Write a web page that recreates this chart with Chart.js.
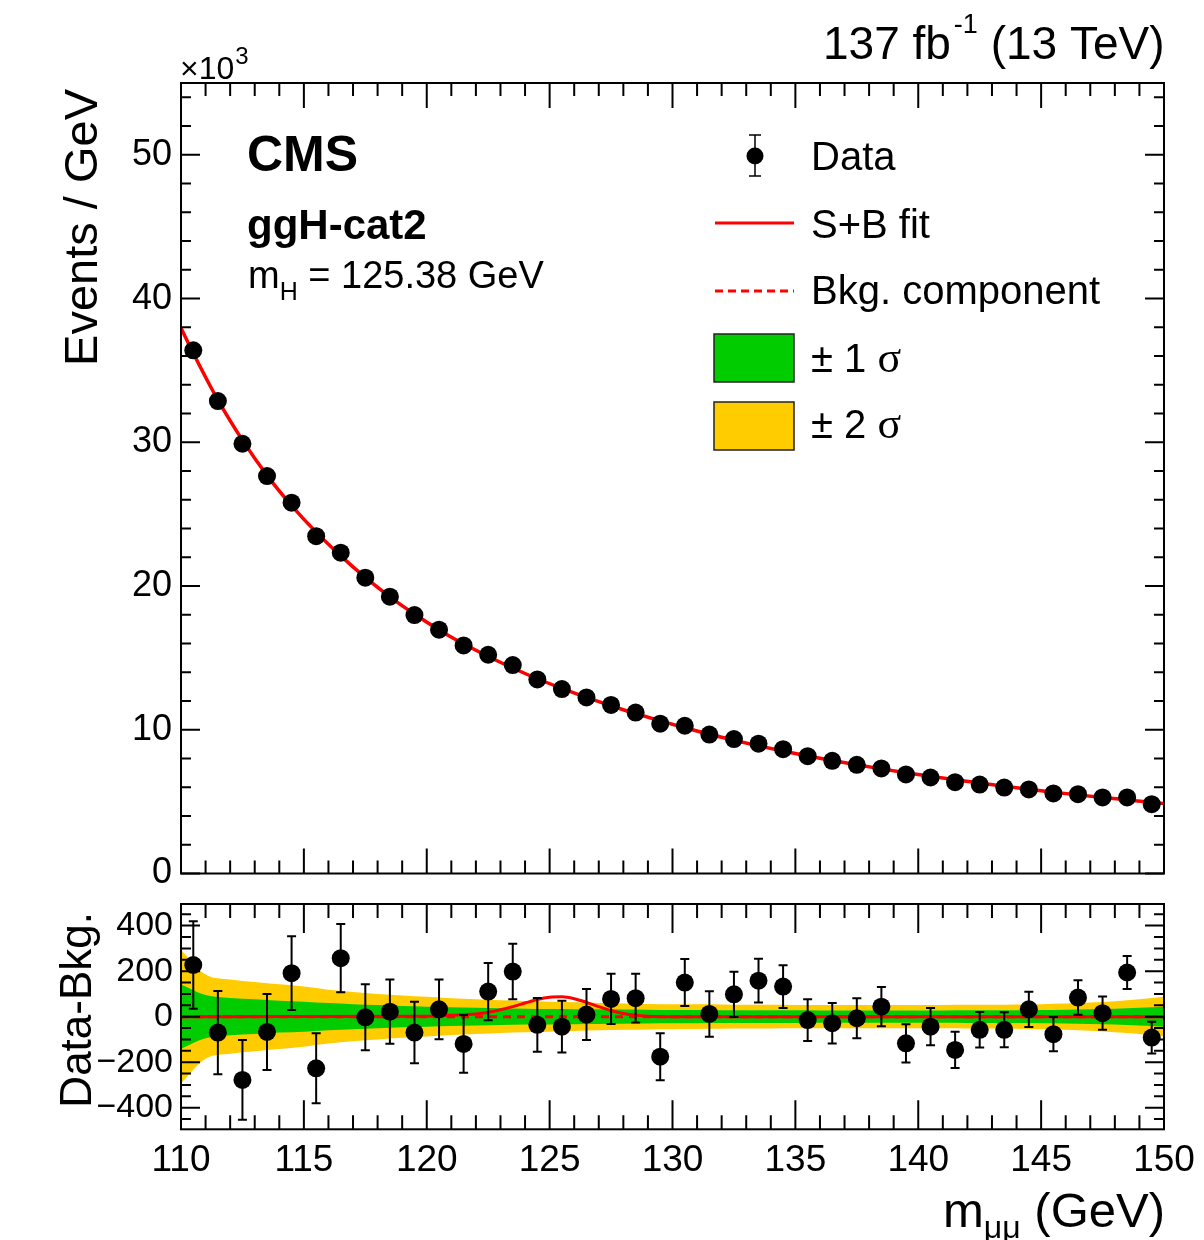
<!DOCTYPE html>
<html>
<head>
<meta charset="utf-8">
<script src="https://cdn.jsdelivr.net/npm/chart.js@4.4.1/dist/chart.umd.min.js"></script>
<style>
html, body { margin: 0; padding: 0; background: #fff; }
#wrap { position: relative; width: 1204px; height: 1240px; overflow: hidden; }
#topCanvas { position: absolute; left: 0; top: 0; }
#ratioCanvas { position: absolute; left: 0; top: 860px; }
</style>
</head>
<body>
<div id="wrap">
  <canvas id="topCanvas" width="1204" height="930"></canvas>
  <canvas id="ratioCanvas" width="1204" height="380"></canvas>
</div>
<script>
// bin centres of the 1 GeV bins
const binCenters = [110.5, 111.5, 112.5, 113.5, 114.5, 115.5, 116.5, 117.5, 118.5, 119.5,
    120.5, 121.5, 122.5, 123.5, 124.5, 125.5, 126.5, 127.5, 128.5, 129.5,
    130.5, 131.5, 132.5, 133.5, 134.5, 135.5, 136.5, 137.5, 138.5, 139.5,
    140.5, 141.5, 142.5, 143.5, 144.5, 145.5, 146.5, 147.5, 148.5, 149.5];

// events / GeV (x10^3)
const dataEvents = [36.4, 32.87, 29.9, 27.65, 25.8, 23.47, 22.32, 20.58, 19.26, 17.98,
    16.96, 15.87, 15.22, 14.5, 13.5, 12.83, 12.25, 11.73, 11.2, 10.42,
    10.28, 9.67, 9.35, 9.03, 8.65, 8.16, 7.84, 7.56, 7.31, 6.89,
    6.68, 6.35, 6.19, 5.98, 5.85, 5.57, 5.52, 5.29, 5.29, 4.82];

// stat. errors (events)
const dataErr = [192, 183, 175, 167, 162, 154, 150, 145, 141, 135,
    131, 127, 126, 122, 118, 114, 112, 110, 107, 103,
    103, 100, 99, 96, 94, 92, 89, 88, 86, 84,
    82, 80, 78, 77, 77, 75, 76, 73, 73, 70];

// data - bkg (events)
const residuals = [227, -70, -278, -67, 191, -227, 257, -3, 22, -70,
    32, -120, 110, 198, -36, -44, 9, 78, 81, -176,
    150, 12, 98, 158, 132, -15, -29, -7, 44, -117,
    -44, -146, -58, -58, 32, -77, 84, 15, 194, -92];

// S+B fit curve (x10^3)
const fitMass = [110, 110.5, 111.5, 112.5, 113.5, 114.5, 115.5, 116.5, 117.5, 118.5, 119.5,
    120.5, 121.5, 122.5, 123.5, 124.5, 125.5, 126.5, 127.5, 128.5, 129.5,
    130.5, 131.5, 132.5, 133.5, 134.5, 135.5, 136.5, 137.5, 138.5, 139.5,
    140.5, 141.5, 142.5, 143.5, 144.5, 145.5, 146.5, 147.5, 148.5, 149.5, 150];
const fitEvents = [37.95, 36.2, 32.95, 30.15, 27.7, 25.6, 23.75, 22.1, 20.6, 19.25, 18.05,
    16.95, 15.98, 15.1, 14.3, 13.55, 12.88, 12.25, 11.67, 11.13, 10.62,
    10.14, 9.69, 9.27, 8.88, 8.52, 8.18, 7.86, 7.56, 7.28, 7.01,
    6.76, 6.52, 6.29, 6.07, 5.86, 5.66, 5.47, 5.29, 5.12, 4.95, 4.87];

// uncertainty bands (half widths, events)
const bandMass = [110, 111, 112, 113, 114, 115, 116, 117, 118, 119, 120,
    121, 122, 123, 124, 125, 126, 127, 128, 129, 130,
    131, 132, 133, 134, 135, 136, 137, 138, 139, 140,
    141, 142, 143, 144, 145, 146, 147, 148, 149, 150];
const band1 = [141, 95, 82, 76, 70, 66, 60, 55, 51, 47, 44,
    41, 39, 37, 35, 34, 33, 32, 31, 30, 29,
    29, 28, 28, 28, 28, 27, 27, 27, 27, 27,
    27, 28, 28, 28, 29, 30, 32, 35, 39, 44];
const band2 = [293, 185, 163, 152, 142, 132, 118, 108, 100, 93, 87,
    81, 76, 72, 69, 66, 63, 60, 58, 56, 55,
    54, 53, 52, 52, 51, 51, 51, 51, 51, 51,
    51, 52, 52, 53, 55, 58, 62, 68, 76, 87];

// signal part of the S+B fit (events)
const sigMass = [110, 120, 121, 122, 122.5, 123, 123.5, 124, 124.5, 125, 125.5, 126, 126.5, 127, 127.5, 128, 128.5, 129, 130, 150];
const sigResid = [0, 2, 6, 12, 19, 30, 44, 60, 75, 85, 87, 79, 63, 44, 27, 14, 6, 2, 0, 0];

// tick labels
const xTicks = [110, 115, 120, 125, 130, 135, 140, 145, 150];
const topYTicks = [0, 10, 20, 30, 40, 50];
const ratioYTicks = [-400, -200, 0, 200, 400];

const FONT = "'Liberation Sans', Arial, Helvetica, sans-serif";
const SERIF = "'Liberation Serif', 'DejaVu Serif', serif";
const RED = "#ff0000";
const GREEN = "#00cc00";
const YELLOW = "#ffcc00";
const RATIO_TOP = 860;

function pts(xs, ys) {
    return xs.map((x, i) => ({ x: x, y: ys[i] }));
}

function txt(ctx, s, x, y, size, o) {
    o = o || {};
    ctx.font = (o.bold ? "bold " : "") + size + "px " + (o.family || FONT);
    ctx.textAlign = o.align || "left";
    ctx.textBaseline = "alphabetic";
    ctx.fillStyle = "#000";
    ctx.fillText(s, x, y);
    return ctx.measureText(s).width;
}

function width(ctx, s, size, o) {
    o = o || {};
    ctx.font = (o.bold ? "bold " : "") + size + "px " + (o.family || FONT);
    return ctx.measureText(s).width;
}

// ROOT style frame: box, inward ticks on all sides, error bars
const rootFrame = {
    id: "rootFrame",
    afterDatasetsDraw(chart, args, o) {
        const ctx = chart.ctx;
        const a = chart.chartArea;
        const xs = chart.scales.x;
        const ys = chart.scales.y;
        ctx.save();
        ctx.strokeStyle = "#000";

        if (o.err) {
            ctx.save();
            ctx.beginPath();
            ctx.rect(a.left, a.top, a.right - a.left, a.bottom - a.top);
            ctx.clip();
            ctx.lineWidth = 2;
            ctx.beginPath();
            o.err.x.forEach((m, i) => {
                const px = xs.getPixelForValue(m);
                const t = ys.getPixelForValue(o.err.y[i] + o.err.e[i]);
                const b = ys.getPixelForValue(o.err.y[i] - o.err.e[i]);
                ctx.moveTo(px, t); ctx.lineTo(px, b);
                ctx.moveTo(px - o.cap, t); ctx.lineTo(px + o.cap, t);
                ctx.moveTo(px - o.cap, b); ctx.lineTo(px + o.cap, b);
            });
            ctx.stroke();
            ctx.restore();
        }

        ctx.lineWidth = 2;
        ctx.beginPath();
        for (let m = Math.ceil(xs.min); m <= xs.max; m++) {
            const px = xs.getPixelForValue(m);
            const len = m % 5 === 0 ? o.xMajorLen : o.xMinorLen;
            ctx.moveTo(px, a.bottom); ctx.lineTo(px, a.bottom - len);
            ctx.moveTo(px, a.top); ctx.lineTo(px, a.top + len);
        }
        for (let k = Math.ceil(ys.min / o.yMinor); k * o.yMinor <= ys.max; k++) {
            const v = k * o.yMinor;
            const py = ys.getPixelForValue(v);
            const len = v % o.yMajor === 0 ? o.yMajorLen : o.yMinorLen;
            ctx.moveTo(a.left, py); ctx.lineTo(a.left + len, py);
            ctx.moveTo(a.right, py); ctx.lineTo(a.right - len, py);
        }
        ctx.stroke();
        ctx.strokeRect(a.left, a.top, a.right - a.left, a.bottom - a.top);
        ctx.restore();
    }
};

// texts and legend of the main pad
const topTexts = {
    id: "topTexts",
    afterDraw(chart) {
        const ctx = chart.ctx;
        ctx.save();

        // axis title
        ctx.save();
        ctx.translate(97, 89);
        ctx.rotate(-Math.PI / 2);
        txt(ctx, "Events / GeV", 0, 0, 47, { align: "right" });
        ctx.restore();

        // x10^3
        let w = txt(ctx, "\u00d710", 180, 79, 32);
        txt(ctx, "3", 180 + w + 1, 64, 24);

        // lumi
        const right = 1164.5;
        const w1 = width(ctx, " (13 TeV)", 46);
        const w2 = width(ctx, "-1", 27);
        txt(ctx, " (13 TeV)", right, 59, 46, { align: "right" });
        txt(ctx, "-1", right - w1, 33, 27, { align: "right" });
        txt(ctx, "137 fb", right - w1 - w2 - 3, 59, 46, { align: "right" });

        // labels
        txt(ctx, "CMS", 247, 171, 50, { bold: true });
        txt(ctx, "ggH-cat2", 247, 239, 42, { bold: true });
        let x = 248;
        x += txt(ctx, "m", x, 288, 38);
        x += txt(ctx, "H", x, 300, 25);
        txt(ctx, " = 125.38 GeV", x, 288, 38);

        // legend
        const lx = 811;
        ctx.fillStyle = "#000";
        ctx.strokeStyle = "#000";
        ctx.lineWidth = 1.5;
        ctx.beginPath();
        ctx.moveTo(755, 135); ctx.lineTo(755, 176);
        ctx.moveTo(749, 135); ctx.lineTo(761, 135);
        ctx.moveTo(749, 176); ctx.lineTo(761, 176);
        ctx.stroke();
        ctx.beginPath();
        ctx.arc(755, 156, 8.5, 0, Math.PI * 2);
        ctx.fill();
        txt(ctx, "Data", lx, 170, 40);

        ctx.strokeStyle = RED;
        ctx.lineWidth = 3;
        ctx.beginPath();
        ctx.moveTo(715, 223); ctx.lineTo(794, 223);
        ctx.stroke();
        txt(ctx, "S+B fit", lx, 238, 40);

        ctx.setLineDash([8, 5]);
        ctx.beginPath();
        ctx.moveTo(715, 291); ctx.lineTo(794, 291);
        ctx.stroke();
        ctx.setLineDash([]);
        txt(ctx, "Bkg. component", lx, 304, 40);

        ctx.lineWidth = 1.5;
        ctx.strokeStyle = "#222";
        ctx.fillStyle = GREEN;
        ctx.fillRect(714, 334, 80, 48);
        ctx.strokeRect(714, 334, 80, 48);
        ctx.fillStyle = YELLOW;
        ctx.fillRect(714, 402, 80, 48);
        ctx.strokeRect(714, 402, 80, 48);
        w = txt(ctx, "\u00b1 1 ", lx, 372, 40);
        txt(ctx, "\u03c3", lx + w, 372, 44, { family: SERIF });
        w = txt(ctx, "\u00b1 2 ", lx, 438, 40);
        txt(ctx, "\u03c3", lx + w, 438, 44, { family: SERIF });

        ctx.restore();
    }
};

const ratioTexts = {
    id: "ratioTexts",
    afterDraw(chart) {
        const ctx = chart.ctx;
        ctx.save();
        ctx.save();
        ctx.translate(91, 912 - RATIO_TOP);
        ctx.rotate(-Math.PI / 2);
        txt(ctx, "Data-Bkg.", 0, 0, 44, { align: "right" });
        ctx.restore();

        const wm = width(ctx, "m", 49);
        const ws = width(ctx, "\u03bc\u03bc", 32);
        const wg = width(ctx, " (GeV)", 49);
        let x = 1165 - wm - ws - wg;
        x += txt(ctx, "m", x, 1227 - RATIO_TOP, 49);
        x += txt(ctx, "\u03bc\u03bc", x, 1238 - RATIO_TOP, 32);
        txt(ctx, " (GeV)", x, 1227 - RATIO_TOP, 49);
        ctx.restore();
    }
};

new Chart(document.getElementById("topCanvas"), {
    type: "line",
    data: {
        datasets: [
            {
                data: pts(binCenters, dataEvents),
                showLine: false,
                pointRadius: 9,
                pointHoverRadius: 9,
                pointBackgroundColor: "#000",
                pointBorderWidth: 0,
                order: 1
            },
            {
                data: pts(fitMass, fitEvents),
                borderColor: RED,
                borderWidth: 3.5,
                pointRadius: 0,
                cubicInterpolationMode: "monotone",
                fill: false,
                order: 2
            }
        ]
    },
    options: {
        responsive: false,
        animation: false,
        events: [],
        layout: { padding: { top: 83, right: 40, left: 0, bottom: 0 } },
        plugins: {
            legend: { display: false },
            tooltip: { enabled: false },
            rootFrame: {
                xMajorLen: 25, xMinorLen: 13,
                yMajor: 10, yMinor: 2, yMajorLen: 19, yMinorLen: 10,
                cap: 4,
                err: { x: binCenters, y: dataEvents, e: dataErr.map(v => v / 1000) }
            }
        },
        scales: {
            x: {
                type: "linear",
                min: 110,
                max: 150,
                grid: { display: false },
                border: { display: false },
                ticks: { display: false },
                afterFit: s => { s.height = 930 - 873.5; }
            },
            y: {
                type: "linear",
                min: 0,
                max: 55,
                grid: { display: false },
                border: { display: false },
                ticks: { color: "#000", font: { family: FONT, size: 36 }, padding: 1 },
                afterBuildTicks: s => { s.ticks = topYTicks.map(v => ({ value: v })); },
                afterFit: s => { s.width = 181; }
            }
        }
    },
    plugins: [rootFrame, topTexts]
});

new Chart(document.getElementById("ratioCanvas"), {
    type: "line",
    data: {
        datasets: [
            {
                data: pts(bandMass, band2),
                borderWidth: 0,
                pointRadius: 0,
                backgroundColor: YELLOW,
                cubicInterpolationMode: "monotone",
                fill: "+1",
                order: 5
            },
            {
                data: pts(bandMass, band2.map(v => -v)),
                borderWidth: 0,
                pointRadius: 0,
                cubicInterpolationMode: "monotone",
                fill: false,
                order: 5
            },
            {
                data: pts(bandMass, band1),
                borderWidth: 0,
                pointRadius: 0,
                backgroundColor: GREEN,
                cubicInterpolationMode: "monotone",
                fill: "+1",
                order: 4
            },
            {
                data: pts(bandMass, band1.map(v => -v)),
                borderWidth: 0,
                pointRadius: 0,
                cubicInterpolationMode: "monotone",
                fill: false,
                order: 4
            },
            {
                data: [{ x: 110, y: 0 }, { x: 150, y: 0 }],
                borderColor: RED,
                borderWidth: 3,
                borderDash: [8, 6],
                pointRadius: 0,
                fill: false,
                order: 3
            },
            {
                data: pts(sigMass, sigResid),
                borderColor: RED,
                borderWidth: 3,
                pointRadius: 0,
                cubicInterpolationMode: "monotone",
                fill: false,
                order: 2
            },
            {
                data: pts(binCenters, residuals),
                showLine: false,
                pointRadius: 9,
                pointHoverRadius: 9,
                pointBackgroundColor: "#000",
                pointBorderWidth: 0,
                order: 1
            }
        ]
    },
    options: {
        responsive: false,
        animation: false,
        events: [],
        layout: { padding: { top: 904 - RATIO_TOP, right: 40, left: 0, bottom: 0 } },
        plugins: {
            legend: { display: false },
            tooltip: { enabled: false },
            rootFrame: {
                xMajorLen: 29, xMinorLen: 14,
                yMajor: 200, yMinor: 50, yMajorLen: 19, yMinorLen: 10,
                cap: 4.5,
                err: { x: binCenters, y: residuals, e: dataErr }
            }
        },
        scales: {
            x: {
                type: "linear",
                min: 110,
                max: 150,
                grid: { display: false },
                border: { display: false },
                ticks: { color: "#000", font: { family: FONT, size: 37 }, padding: 1, maxRotation: 0 },
                afterBuildTicks: s => { s.ticks = xTicks.map(v => ({ value: v })); },
                afterFit: s => { s.height = 380 - (1129.3 - RATIO_TOP); }
            },
            y: {
                type: "linear",
                min: -495,
                max: 495,
                grid: { display: false },
                border: { display: false },
                ticks: {
                    color: "#000",
                    font: { family: FONT, size: 34 },
                    padding: 0,
                    callback: v => (v < 0 ? "\u2212" + Math.abs(v) : String(v))
                },
                afterBuildTicks: s => { s.ticks = ratioYTicks.map(v => ({ value: v })); },
                afterFit: s => { s.width = 181; }
            }
        }
    },
    plugins: [rootFrame, ratioTexts]
});
</script>
</body>
</html>
